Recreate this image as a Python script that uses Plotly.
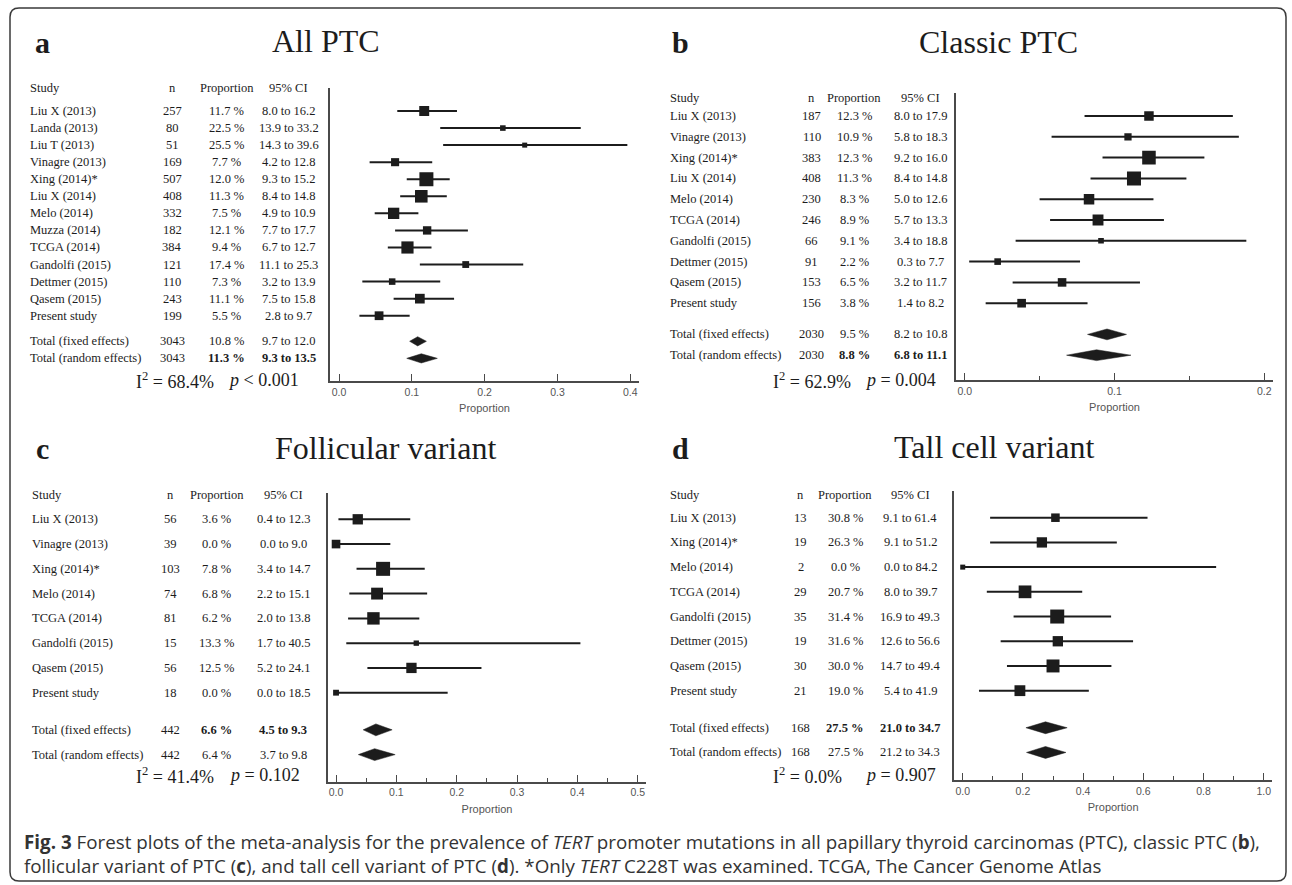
import plotly.graph_objects as go
import math

W, H = 1292, 885

# ---------------- data ----------------
# Panel a: All PTC
a_studies = ["Liu X (2013)", "Landa (2013)", "Liu T (2013)", "Vinagre (2013)", "Xing (2014)*",
             "Liu X (2014)", "Melo (2014)", "Muzza (2014)", "TCGA (2014)", "Gandolfi (2015)",
             "Dettmer (2015)", "Qasem (2015)", "Present study"]
a_n = [257, 80, 51, 169, 507, 408, 332, 182, 384, 121, 110, 243, 199]
a_prop = [11.7, 22.5, 25.5, 7.7, 12.0, 11.3, 7.5, 12.1, 9.4, 17.4, 7.3, 11.1, 5.5]
a_lo = [8.0, 13.9, 14.3, 4.2, 9.3, 8.4, 4.9, 7.7, 6.7, 11.1, 3.2, 7.5, 2.8]
a_hi = [16.2, 33.2, 39.6, 12.8, 15.2, 14.8, 10.9, 17.7, 12.7, 25.3, 13.9, 15.8, 9.7]
a_total_n = 3043
a_fixed = [10.8, 9.7, 12.0]
a_random = [11.3, 9.3, 13.5]
a_i2 = 68.4
a_p_op, a_p = "<", "0.001"

# Panel b: Classic PTC
b_studies = ["Liu X (2013)", "Vinagre (2013)", "Xing (2014)*", "Liu X (2014)", "Melo (2014)",
             "TCGA (2014)", "Gandolfi (2015)", "Dettmer (2015)", "Qasem (2015)", "Present study"]
b_n = [187, 110, 383, 408, 230, 246, 66, 91, 153, 156]
b_prop = [12.3, 10.9, 12.3, 11.3, 8.3, 8.9, 9.1, 2.2, 6.5, 3.8]
b_lo = [8.0, 5.8, 9.2, 8.4, 5.0, 5.7, 3.4, 0.3, 3.2, 1.4]
b_hi = [17.9, 18.3, 16.0, 14.8, 12.6, 13.3, 18.8, 7.7, 11.7, 8.2]
b_total_n = 2030
b_fixed = [9.5, 8.2, 10.8]
b_random = [8.8, 6.8, 11.1]
b_i2 = 62.9
b_p_op, b_p = "=", "0.004"

# Panel c: Follicular variant
c_studies = ["Liu X (2013)", "Vinagre (2013)", "Xing (2014)*", "Melo (2014)", "TCGA (2014)",
             "Gandolfi (2015)", "Qasem (2015)", "Present study"]
c_n = [56, 39, 103, 74, 81, 15, 56, 18]
c_prop = [3.6, 0.0, 7.8, 6.8, 6.2, 13.3, 12.5, 0.0]
c_lo = [0.4, 0.0, 3.4, 2.2, 2.0, 1.7, 5.2, 0.0]
c_hi = [12.3, 9.0, 14.7, 15.1, 13.8, 40.5, 24.1, 18.5]
c_total_n = 442
c_fixed = [6.6, 4.5, 9.3]
c_random = [6.4, 3.7, 9.8]
c_i2 = 41.4
c_p_op, c_p = "=", "0.102"

# Panel d: Tall cell variant
d_studies = ["Liu X (2013)", "Xing (2014)*", "Melo (2014)", "TCGA (2014)", "Gandolfi (2015)",
             "Dettmer (2015)", "Qasem (2015)", "Present study"]
d_n = [13, 19, 2, 29, 35, 19, 30, 21]
d_prop = [30.8, 26.3, 0.0, 20.7, 31.4, 31.6, 30.0, 19.0]
d_lo = [9.1, 9.1, 0.0, 8.0, 16.9, 12.6, 14.7, 5.4]
d_hi = [61.4, 51.2, 84.2, 39.7, 49.3, 56.6, 49.4, 41.9]
d_total_n = 168
d_fixed = [27.5, 21.0, 34.7]
d_random = [27.5, 21.2, 34.3]
d_i2 = 0.0
d_p_op, d_p = "=", "0.907"

# ---------------- styling / layout ----------------
SERIF = "Liberation Serif, Times New Roman, serif"
SANS = "Liberation Sans, Arial, sans-serif"
INK = "#1c1c1c"
AXC = "#4a4a4a"


def PX(x):
    return x / W


def PY(y):
    return 1 - y / H


panels = [
    dict(letter="a", title="All PTC", studies=a_studies, n=a_n, prop=a_prop, lo=a_lo, hi=a_hi,
         total_n=a_total_n, fixed=a_fixed, random=a_random, i2=a_i2, p_op=a_p_op, p=a_p,
         xpx=(330, 639), ypx=(88, 381), row0=111, sp=17.06, xr=(-0.0124, 0.412),
         dtick=0.1, minor=None, cols=(27.5, 172, 226.5, 288.5), head_y=88,
         title_xy=(325.5, 41), letter_xy=(42.5, 43), stat_xy=(133.5, 380), p_x=226,
         bold="random", dh=0.27),
    dict(letter="b", title="Classic PTC", studies=b_studies, n=b_n, prop=b_prop, lo=b_lo, hi=b_hi,
         total_n=b_total_n, fixed=b_fixed, random=b_random, i2=b_i2, p_op=b_p_op, p=b_p,
         xpx=(956, 1273), ypx=(92.7, 380), row0=116, sp=20.8, xr=(-0.0058, 0.2058),
         dtick=0.1, minor=0.05, cols=(667.5, 811.7, 854, 920), head_y=98,
         title_xy=(998.5, 42), letter_xy=(680, 43), stat_xy=(771.2, 380), p_x=863.5,
         bold="random", dh=0.26),
    dict(letter="c", title="Follicular variant", studies=c_studies, n=c_n, prop=c_prop, lo=c_lo, hi=c_hi,
         total_n=c_total_n, fixed=c_fixed, random=c_random, i2=c_i2, p_op=c_p_op, p=c_p,
         xpx=(328, 646), ypx=(492.7, 781.7), row0=519.3, sp=24.77, xr=(-0.0133, 0.5137),
         dtick=0.1, minor=0.05, cols=(30.2, 170, 216.5, 283.3), head_y=495,
         title_xy=(385.5, 448), letter_xy=(42.5, 448), stat_xy=(133.5, 775), p_x=226.5,
         bold="fixed", dh=0.24),
    dict(letter="d", title="Tall cell variant", studies=d_studies, n=d_n, prop=d_prop, lo=d_lo, hi=d_hi,
         total_n=d_total_n, fixed=d_fixed, random=d_random, i2=d_i2, p_op=d_p_op, p=d_p,
         xpx=(954, 1272.3), ypx=(491, 780), row0=517.7, sp=24.71, xr=(-0.029, 1.0286),
         dtick=0.2, minor=0.1, cols=(667.5, 800.7, 845, 910), head_y=495,
         title_xy=(993.5, 447), letter_xy=(680, 448), stat_xy=(771.2, 775), p_x=863.5,
         bold="fixed", dh=0.24),
]

fig = go.Figure()
annotations = []
layout_axes = {}

TFS = 12.5  # table font size

for k, P in enumerate(panels):
    idx = "" if k == 0 else str(k + 1)
    xa, ya = "x" + idx, "y" + idx
    N = len(P["studies"])
    rows = list(range(N))
    r_fixed, r_random = N + 0.5, N + 1.5

    # CI whiskers
    xs, ys = [], []
    for i in rows:
        xs += [P["lo"][i] / 100, P["hi"][i] / 100, None]
        ys += [i, i, None]
    fig.add_trace(go.Scatter(x=xs, y=ys, mode="lines", xaxis=xa, yaxis=ya,
                             line=dict(color=INK, width=2), hoverinfo="skip", showlegend=False))
    # weight squares (side ~ sqrt(n))
    nmax = max(P["n"])
    sizes = [max(5, 14 * math.sqrt(v / nmax)) for v in P["n"]]
    fig.add_trace(go.Scatter(x=[v / 100 for v in P["prop"]], y=rows, mode="markers",
                             xaxis=xa, yaxis=ya,
                             marker=dict(symbol="square", size=sizes, color=INK, opacity=1,
                                         line=dict(width=0)),
                             showlegend=False))
    # summary diamonds
    for est, r in ((P["fixed"], r_fixed), (P["random"], r_random)):
        m, lo, hi = [v / 100 for v in est]
        h = P["dh"]
        fig.add_trace(go.Scatter(x=[lo, m, hi, m, lo], y=[r, r - h, r, r + h, r],
                                 mode="lines", fill="toself", fillcolor=INK,
                                 line=dict(color=INK, width=0.5), xaxis=xa, yaxis=ya,
                                 showlegend=False, hoverinfo="skip"))

    # axes
    top_idx = (P["ypx"][0] - P["row0"]) / P["sp"]
    bot_idx = (P["ypx"][1] - P["row0"]) / P["sp"]
    xdict = dict(domain=[PX(P["xpx"][0]), PX(P["xpx"][1])], range=list(P["xr"]), anchor=ya,
                 showline=True, linecolor=AXC, linewidth=1.8, ticks="inside", ticklen=7,
                 tickwidth=1.4, tickcolor=AXC, tick0=0, dtick=P["dtick"], tickformat=".1f",
                 tickfont=dict(family=SANS, size=10.5, color="#555555"),
                 title=dict(text="Proportion", font=dict(family=SANS, size=11, color="#555555"),
                            standoff=8),
                 showgrid=False, zeroline=False, fixedrange=True)
    if P["minor"]:
        xdict["minor"] = dict(dtick=P["minor"], tick0=0, ticks="inside", ticklen=4,
                              tickwidth=1.2, tickcolor=AXC, showgrid=False)
    ydict = dict(domain=[PY(P["ypx"][1]), PY(P["ypx"][0])], range=[bot_idx, top_idx], anchor=xa,
                 showline=True, linecolor=AXC, linewidth=1.8, showticklabels=False, ticks="",
                 showgrid=False, zeroline=False, fixedrange=True)
    layout_axes["xaxis" + idx] = xdict
    layout_axes["yaxis" + idx] = ydict

    cs, cn, cp, cc = P["cols"]

    def txt(text, x, y, yref, xanchor="center", size=TFS, family=SERIF, color=INK):
        annotations.append(dict(text=text, x=PX(x), y=y, xref="paper", yref=yref,
                                xanchor=xanchor, yanchor="middle", showarrow=False,
                                font=dict(family=family, size=size, color=color)))

    # header
    hy = PY(P["head_y"])
    txt("Study", cs, hy, "paper", "left")
    txt("n", cn, hy, "paper")
    txt("Proportion", cp, hy, "paper")
    txt("95% CI", cc, hy, "paper")
    # study rows
    for i in rows:
        txt(P["studies"][i], cs, i, ya, "left")
        txt(str(P["n"][i]), cn, i, ya)
        txt(f"{P['prop'][i]:.1f} %", cp, i, ya)
        txt(f"{P['lo'][i]:.1f} to {P['hi'][i]:.1f}", cc, i, ya)
    # totals
    for label, est, r, key in (("Total (fixed effects)", P["fixed"], r_fixed, "fixed"),
                               ("Total (random effects)", P["random"], r_random, "random")):
        b0, b1 = ("<b>", "</b>") if P["bold"] == key else ("", "")
        txt(label, cs, r, ya, "left")
        txt(str(P["total_n"]), cn, r, ya)
        txt(f"{b0}{est[0]:.1f} %{b1}", cp, r, ya)
        txt(f"{b0}{est[1]:.1f} to {est[2]:.1f}{b1}", cc, r, ya)

    # heterogeneity
    sx, sy = P["stat_xy"]
    txt(f"I<sup>2</sup> = {P['i2']:.1f}%", sx, PY(sy), "paper", "left", size=18)
    op = "&lt;" if P["p_op"] == "<" else "="
    txt(f"<i>p</i> {op} {P['p']}", P["p_x"], PY(sy), "paper", "left", size=18)

    # title and letter
    tx, ty = P["title_xy"]
    txt(P["title"], tx, PY(ty), "paper", "center", size=32)
    lx, ly = P["letter_xy"]
    txt(f"<b>{P['letter']}</b>", lx, PY(ly), "paper", "center", size=30)

# caption
CAP = "Open Sans, Noto Sans, sans-serif"
cap1 = ("<b>Fig. 3</b> Forest plots of the meta-analysis for the prevalence of <i>TERT</i> promoter "
        "mutations in all papillary thyroid carcinomas (PTC), classic PTC (<b>b</b>),")
cap2 = ("follicular variant of PTC (<b>c</b>), and tall cell variant of PTC (<b>d</b>). *Only "
        "<i>TERT</i> C228T was examined. TCGA, The Cancer Genome Atlas")
for t, y in ((cap1, 842), (cap2, 866)):
    annotations.append(dict(text=t, x=PX(22), y=PY(y), xref="paper", yref="paper",
                            xanchor="left", yanchor="middle", showarrow=False,
                            font=dict(family=CAP, size=18.8, color="#333333")))

# rounded frame
x0, x1, y0, y1 = PX(10), PX(1286), PY(8), PY(881)
rx, ry = 9 / W, 9 / H
path = (f"M {x0 + rx},{y0} L {x1 - rx},{y0} Q {x1},{y0} {x1},{y0 - ry} "
        f"L {x1},{y1 + ry} Q {x1},{y1} {x1 - rx},{y1} "
        f"L {x0 + rx},{y1} Q {x0},{y1} {x0},{y1 + ry} "
        f"L {x0},{y0 - ry} Q {x0},{y0} {x0 + rx},{y0} Z")

fig.update_layout(
    width=W, height=H, margin=dict(l=0, r=0, t=0, b=0),
    paper_bgcolor="white", plot_bgcolor="white", showlegend=False,
    annotations=annotations,
    shapes=[dict(type="path", path=path, xref="paper", yref="paper",
                 line=dict(color="#3a3a3a", width=1.5), fillcolor="rgba(0,0,0,0)")],
    **layout_axes,
)

fig.write_html("out.html", config={"displayModeBar": False},
               post_script="document.body.style.margin='0';document.body.style.overflow='hidden';")
